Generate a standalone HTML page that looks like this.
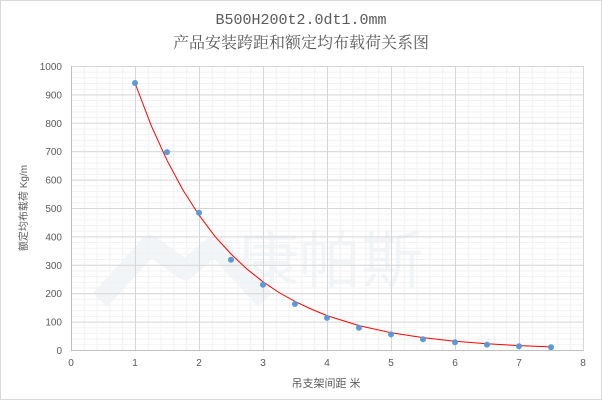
<!DOCTYPE html><html><head><style>body{margin:0}svg{display:block}</style></head><body>
<svg width="602" height="400" xmlns="http://www.w3.org/2000/svg" font-family="Liberation Sans, Noto Sans CJK SC, sans-serif">
<defs>
<pattern id="mx" x="71" y="0" width="12.8" height="400" patternUnits="userSpaceOnUse"><line x1="0.5" y1="0" x2="0.5" y2="400" stroke="#f1f1f1"/></pattern>
<pattern id="my" x="0" y="66" width="602" height="5.68" patternUnits="userSpaceOnUse"><line x1="0" y1="0.5" x2="602" y2="0.5" stroke="#f1f1f1"/></pattern>
<pattern id="Mx" x="71" y="0" width="64" height="400" patternUnits="userSpaceOnUse"><line x1="0.5" y1="0" x2="0.5" y2="400" stroke="#d6d6d6"/></pattern>
<pattern id="My" x="0" y="66" width="602" height="28.4" patternUnits="userSpaceOnUse"><line x1="0" y1="0.5" x2="602" y2="0.5" stroke="#d6d6d6"/></pattern>
</defs>
<rect x="0.5" y="0.5" width="601" height="399" fill="#fff" stroke="#d9d9d9"/>
<text x="301" y="24" text-anchor="middle" font-family="Liberation Mono, Noto Serif CJK SC, monospace" font-size="15" fill="#595959">B500H200t2.0dt1.0mm</text>
<text x="301" y="48" text-anchor="middle" font-family="Noto Serif CJK SC, serif" font-size="16" fill="#595959">产品安装跨距和额定均布载荷关系图</text>
<text x="330" y="282" text-anchor="middle" font-size="62" fill="#f2f5f8" font-family="Noto Sans CJK SC, sans-serif">康帕斯</text>
<path d="M100 300 L150 245 L185 270 L215 245 L265 300" fill="none" stroke="#f2f5f8" stroke-width="20" stroke-linejoin="round"/>
<rect x="71" y="66" width="512" height="285" fill="url(#mx)"/>
<rect x="71" y="66" width="512" height="285" fill="url(#my)"/>
<rect x="71" y="66" width="513" height="285" fill="url(#Mx)"/>
<rect x="71" y="66" width="512" height="285" fill="url(#My)"/>
<line x1="71" y1="350.5" x2="583" y2="350.5" stroke="#bfbfbf"/>
<line x1="71.5" y1="66" x2="71.5" y2="350" stroke="#bfbfbf"/>
<g font-size="10" fill="#595959" text-anchor="end">
<text x="62" y="354">0</text><text x="62" y="325.6">100</text><text x="62" y="297.2">200</text><text x="62" y="268.8">300</text><text x="62" y="240.4">400</text><text x="62" y="212">500</text><text x="62" y="183.6">600</text><text x="62" y="155.2">700</text><text x="62" y="126.8">800</text><text x="62" y="98.4">900</text><text x="62" y="70">1000</text>
</g>
<g font-size="10" fill="#595959" text-anchor="middle">
<text x="71" y="366">0</text><text x="135" y="366">1</text><text x="199" y="366">2</text><text x="263" y="366">3</text><text x="327" y="366">4</text><text x="391" y="366">5</text><text x="455" y="366">6</text><text x="519" y="366">7</text><text x="583" y="366">8</text>
</g>
<polyline fill="none" stroke="#ff0000" stroke-width="1" points="135,83 151,125.1 167,160.3 183,190.1 199,215.1 215,236.4 231,254 247,269.1 263,281.8 279,292.5 295,301.4 311,309 327,315.6 359,325.6 391,332.7 423,337.6 455,341.2 487,343.8 519,345.6 551,346.9"/>
<g fill="#5b9bd5">
<circle cx="135" cy="83" r="3"/><circle cx="167" cy="152.1" r="3"/><circle cx="199" cy="212.8" r="3"/><circle cx="231" cy="259.7" r="3"/><circle cx="263" cy="284.7" r="3"/><circle cx="295" cy="304" r="3"/><circle cx="327" cy="317.9" r="3"/><circle cx="359" cy="327.8" r="3"/><circle cx="391" cy="334.4" r="3"/><circle cx="423" cy="339.2" r="3"/><circle cx="455" cy="342.3" r="3"/><circle cx="487" cy="344.6" r="3"/><circle cx="519" cy="346.3" r="3"/><circle cx="551" cy="347.2" r="3"/>
</g>
<text x="326" y="387" text-anchor="middle" font-size="11" fill="#595959">吊支架间距 米</text>
<text transform="translate(27,208) rotate(-90)" text-anchor="middle" font-size="10" fill="#595959">额定均布载荷 Kg/m</text>
</svg></body></html>
